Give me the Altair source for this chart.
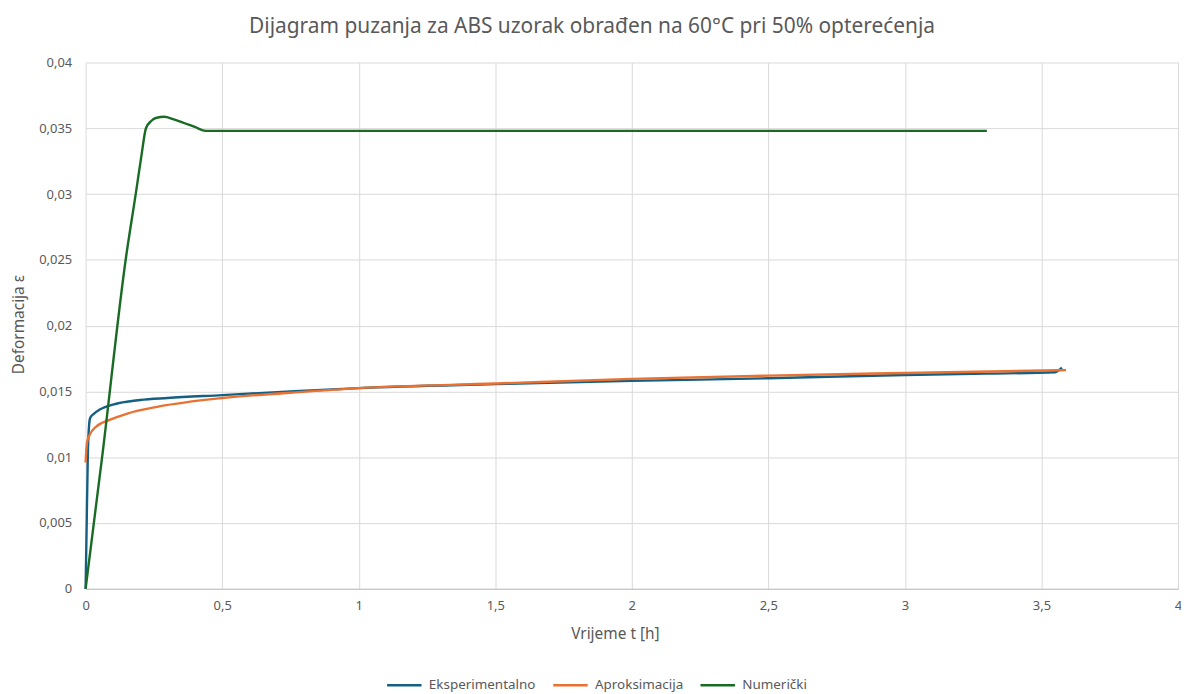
import altair as alt
import pandas as pd

# Eksperimentalno (experimental)
exp_t = [0, 0.004, 0.008, 0.013, 0.017, 0.03, 0.05, 0.1, 0.2, 0.3, 0.5, 0.75, 1.0, 1.5, 2.0, 2.5, 3.0, 3.3, 3.55, 3.575]
exp_e = [0, 0.005, 0.0100, 0.0125, 0.0130, 0.0133, 0.0136, 0.0140, 0.01435, 0.0145, 0.01472, 0.0150, 0.01525, 0.01555, 0.0158, 0.0160, 0.01625, 0.01635, 0.01646, 0.0168]

# Aproksimacija (approximation)
apr_t = [0, 0.005, 0.015, 0.04, 0.09, 0.15, 0.27, 0.5, 0.75, 1.0, 1.5, 2.0, 2.5, 3.0, 3.59]
apr_e = [0.0096, 0.0111, 0.0117, 0.01235, 0.01285, 0.0133, 0.01386, 0.0145, 0.0149, 0.01525, 0.0156, 0.01595, 0.0162, 0.0164, 0.01662]

# Numerički (numerical)
num_t = [0, 0.061, 0.148, 0.185, 0.205, 0.221, 0.24, 0.26, 0.288, 0.32, 0.36, 0.40, 0.44, 1.0, 2.0, 3.3]
num_e = [0, 0.0101, 0.0252, 0.0302, 0.0330, 0.0350, 0.03555, 0.03580, 0.03587, 0.0357, 0.0354, 0.0351, 0.0348, 0.0348, 0.0348, 0.0348]

series = ["Eksperimentalno", "Aproksimacija", "Numerički"]
colors = ["#156082", "#E97132", "#196B24"]

rows = []
for name, ts, es in zip(series, [exp_t, apr_t, num_t], [exp_e, apr_e, num_e]):
    for i, (t, e) in enumerate(zip(ts, es)):
        rows.append({"serija": name, "t": t, "eps": e, "ord": i})
df = pd.DataFrame(rows)

FONT = "Noto Sans"
GRAY = "#595959"
fmt = "replace(format(datum.value, '~g'), '.', ',')"

chart = alt.Chart(df).mark_line(strokeWidth=2.4, interpolate="monotone").encode(
    x=alt.X("t:Q", scale=alt.Scale(domain=[0, 4], nice=False),
            axis=alt.Axis(title="Vrijeme t [h]", values=[0, 0.5, 1, 1.5, 2, 2.5, 3, 3.5, 4],
                          labelExpr=fmt, labelFontSize=13, labelColor=GRAY, titleColor=GRAY,
                          titleFontSize=15.5, titleFontWeight="normal", labelFont=FONT, titleFont=FONT,
                          ticks=False, domainColor="#bfbfbf", gridColor="#d9d9d9",
                          labelPadding=11, titleX=532, titleY=45, titleBaseline="middle",
                          labelFlush=False)),
    y=alt.Y("eps:Q", scale=alt.Scale(domain=[0, 0.04], nice=False),
            axis=alt.Axis(title="Deformacija ε", values=[0, 0.005, 0.01, 0.015, 0.02, 0.025, 0.03, 0.035, 0.04],
                          labelExpr=fmt, labelFontSize=13, labelColor=GRAY, titleColor=GRAY,
                          titleFontSize=15.5, titleFontWeight="normal", labelFont=FONT, titleFont=FONT,
                          ticks=False, domain=False, gridColor="#d9d9d9",
                          labelPadding=14, titleX=-67, titleY=263, titleAngle=270,
                          titleBaseline="middle", titleAlign="center")),
    color=alt.Color("serija:N", scale=alt.Scale(domain=series, range=colors),
                    legend=alt.Legend(title=None, orient="none", direction="horizontal",
                                      legendX=319, legendY=616, symbolType="M-3,0H1",
                                      symbolSize=300, symbolStrokeWidth=2.4,
                                      labelFontSize=13.5, labelColor=GRAY, labelFont=FONT,
                                      columnPadding=12, labelOffset=6, gridAlign="none")),
    order="ord:Q",
).properties(
    width=1098, height=529,
    title=alt.TitleParams("Dijagram puzanja za ABS uzorak obrađen na 60°C pri 50% opterećenja",
                          fontSize=21, font=FONT, color=GRAY, fontWeight="normal",
                          anchor="middle", dx=-40, offset=20),
    autosize=alt.AutoSizeParams(type="none"),
    padding={"left": 78, "top": 53, "right": 3, "bottom": 104},
).configure_view(stroke=None)

chart.save("out.html", embed_options={"renderer": "svg", "actions": False})
